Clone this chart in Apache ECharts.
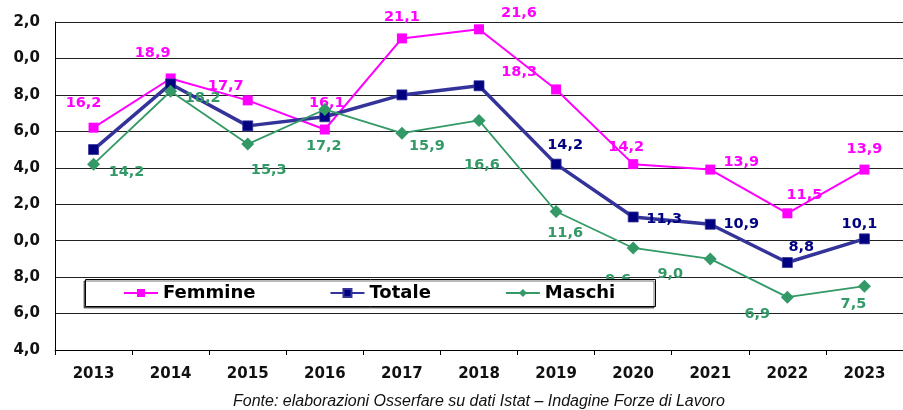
<!DOCTYPE html>
<html>
<head>
<meta charset="utf-8">
<script src="https://cdn.jsdelivr.net/npm/echarts@6/dist/echarts.min.js"></script>
<style>
html,body{margin:0;padding:0;background:#fff;}
#chart{width:903px;height:410px;}
</style>
</head>
<body>
<div id="chart"></div>
<script>
// ---- data ----
const years = ['2013','2014','2015','2016','2017','2018','2019','2020','2021','2022','2023'];
const femmine = [16.2, 18.9, 17.7, 16.1, 21.1, 21.6, 18.3, 14.2, 13.9, 11.5, 13.9];
const totale  = [15.0, 18.6, 16.3, 16.8, 18.0, 18.5, 14.2, 11.3, 10.9, 8.8, 10.1];
const maschi  = [14.2, 18.2, 15.3, 17.2, 15.9, 16.6, 11.6, 9.6, 9.0, 6.9, 7.5];
const seriesNames = ['Femmine', 'Totale', 'Maschi'];
const yMin = 4, yMax = 22, yStep = 2;
const footer = 'Fonte: elaborazioni Osserfare su dati Istat \u2013 Indagine Forze di Lavoro';

// ---- label layout (offsets from the point, px); null = no label ----
const femOff = [[-10,-24],[-18,-25],[-22,-14],[2,-26],[0,-21],[40,-16],[-37,-17],[-7,-17],[31,-7],[17,-18],[0,-20]];
const totOff = [null,null,null,null,null,null,[9,-19],[31,2],[31,0],[14,-15],[-5,-15]];
const masOff = [[33,8],[32,7],[21,26],[-1,37],[25,13],[3,45],[9,22],[-15,32],[-40,15],[-30,17],[-11,18.5]];

const fmt = v => v.toFixed(1).replace('.', ',');
function build(vals, offs, color) {
  return vals.map((v, i) => {
    const o = offs[i];
    return {
      value: v,
      label: o ? {
        show: true, position: 'inside', offset: o,
        formatter: p => fmt(p.value),
        color: color, fontFamily: 'DejaVu Sans', fontWeight: 'bold', fontSize: 14.5
      } : { show: false }
    };
  });
}

const FEM = '#FF00FF', TOT = '#000080', TOTL = '#333399', MAS = '#339966';

const chart = echarts.init(document.getElementById('chart'), null, {renderer: 'canvas'});
chart.setOption({
  animation: false,
  backgroundColor: '#fff',
  grid: { left: 54, top: 22, width: 857, height: 328, containLabel: false },
  xAxis: {
    type: 'category', data: years, boundaryGap: true,
    axisLine: { lineStyle: { color: '#000', width: 1 } },
    axisTick: { show: true, length: 5, lineStyle: { color: '#000' } },
    axisLabel: { margin: 17, color: '#111', fontFamily: 'DejaVu Sans', fontWeight: 'bold', fontSize: 15 }
  },
  yAxis: {
    type: 'value', min: yMin, max: yMax, interval: yStep,
    axisLine: { show: true, lineStyle: { color: '#000', width: 1 } },
    axisTick: { show: false },
    splitLine: { lineStyle: { color: '#222', width: 1 } },
    axisLabel: { margin: 15, color: '#111', fontFamily: 'DejaVu Sans', fontWeight: 'bold', fontSize: 15,
      formatter: v => fmt(v) }
  },
  legend: {
    data: seriesNames, left: 123, top: 284, padding: 0, z: 20,
    itemWidth: 34, itemHeight: 10, itemGap: 74,
    textStyle: { fontFamily: 'DejaVu Sans', fontWeight: 'bold', fontSize: 18, color: '#000' }
  },
  graphic: [
    { type: 'rect', z: 15, shape: { x: 85.5, y: 279.5, width: 570, height: 27 },
      style: { fill: '#fff', stroke: '#000', lineWidth: 1, shadowColor: 'rgba(0,0,0,0.55)', shadowOffsetX: -1.5, shadowOffsetY: 1.5, shadowBlur: 0 } },
    { type: 'rect', z: 30, shape: { x: 0, y: 0, width: 13, height: 360 }, style: { fill: '#fff' } },
    { type: 'text', z: 30, left: 233, top: 394,
      style: { text: footer, fill: '#111', font: 'italic 16px "Liberation Sans"' } }
  ],
  series: [
    { name: 'Femmine', type: 'line', data: build(femmine, femOff, FEM), color: FEM,
      symbol: 'rect', symbolSize: 10, lineStyle: { color: FEM, width: 2 }, itemStyle: { color: FEM }, z: 2 },
    { name: 'Totale', type: 'line', data: build(totale, totOff, TOT), color: TOT,
      symbol: 'rect', symbolSize: 10, lineStyle: { color: TOTL, width: 3.5 }, itemStyle: { color: TOT, borderColor: TOTL, borderWidth: 0.8 }, z: 3 },
    { name: 'Maschi', type: 'line', data: build(maschi, masOff, MAS), color: MAS,
      symbol: 'diamond', symbolSize: 13, lineStyle: { color: MAS, width: 1.8 }, itemStyle: { color: MAS }, z: 4 }
  ]
});
</script>
</body>
</html>
